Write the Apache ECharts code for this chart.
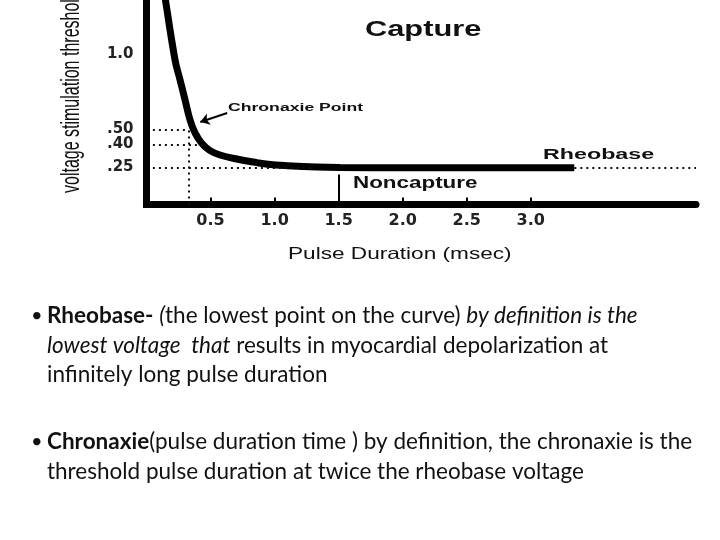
<!DOCTYPE html>
<html>
<head>
<meta charset="utf-8">
<script src="https://cdn.jsdelivr.net/npm/echarts@6/dist/echarts.min.js"></script>
<style>
  html, body { margin: 0; padding: 0; background: #fff; }
  #chart { width: 720px; height: 540px; }
</style>
</head>
<body>
<div id="chart"></div>
<script>
// strength-duration curve
const durations  = [0.137, 0.148, 0.223, 0.262, 0.301, 0.340, 0.379, 0.431, 0.496, 0.574, 0.705, 0.861, 0.949, 1.10, 1.33, 1.51, 2.0, 2.5, 3.0, 3.34]
const thresholds = [1.43, 1.363, 0.963, 0.83, 0.697, 0.563, 0.477, 0.408, 0.359, 0.33, 0.303, 0.279, 0.268, 0.259, 0.25, 0.247, 0.245, 0.245, 0.245, 0.245]

const xTickValues = [0.5, 1.0, 1.5, 2.0, 2.5, 3.0]
const yTickValues = [0.25, 0.40, 0.50, 1.0]
const yTickLabels = ['.25', '.40', '.50', '1.0']

const rheobase = 0.245
const chronaxie = [0.33, 0.5]      // pulse duration, voltage
const xMax = 4.29
const yMax = 1.363

let chart = echarts.init(document.getElementById('chart'), null, {renderer: 'canvas'})

const dots = {type: [2, 4], width: 2, color: '#111'}
const bold = 'Liberation Sans'

// text drawn straight on the canvas, stretched like the scanned figure
function txt(x, y, s, size, weight, sx, extra) {
    return Object.assign({
        type: 'text', x: x, y: y, scaleX: sx || 1,
        style: {text: s, fontFamily: bold, fontSize: size, fontWeight: weight,
                fill: '#111', textAlign: 'left', textVerticalAlign: 'middle'}
    }, extra || {})
}

const body = 'Lato'
const bodySize = 22.5
function para(y, lines) {
    return {
        type: 'text', x: 47, y: y,
        style: {
            text: lines.join('\n'),
            fontFamily: body, fontSize: bodySize, lineHeight: 29.5, fill: '#111',
            textAlign: 'left', textVerticalAlign: 'top',
            rich: {
                b: {fontFamily: body, fontSize: bodySize, lineHeight: 29.5, fontWeight: 'bold', fill: '#111'},
                i: {fontFamily: body, fontSize: bodySize, lineHeight: 29.5, fontStyle: 'italic', fill: '#111'}
            }
        }
    }
}
function bullet(y) {
    return {type: 'text', x: 31, y: y,
            style: {text: '\u2022', fontFamily: body, fontSize: 20, fill: '#111',
                    textAlign: 'left', textVerticalAlign: 'middle'}}
}

let option = {
    backgroundColor: '#fff',
    animation: false,
    grid: {left: 146.5, right: 24, top: 0, bottom: 335.5, containLabel: false},
    xAxis: {
        type: 'value', min: 0, max: xMax,
        axisLine: {lineStyle: {color: '#000', width: 7}},
        axisTick: {show: true, inside: true, length: 7, customValues: xTickValues,
                   lineStyle: {color: '#000', width: 2}},
        axisLabel: {customValues: xTickValues, formatter: v => v.toFixed(1),
                    fontFamily: 'DejaVu Sans', fontWeight: 'bold', fontSize: 16, color: '#222', margin: 8},
        splitLine: {show: false}
    },
    yAxis: {
        type: 'value', min: 0, max: yMax,
        axisLine: {show: true, lineStyle: {color: '#000', width: 7, cap: 'square'}},
        axisTick: {show: false},
        axisLabel: {customValues: yTickValues,
                    formatter: v => yTickLabels[yTickValues.indexOf(v)] || '',
                    fontFamily: 'DejaVu Sans', fontWeight: 'bold', fontSize: 15, color: '#222', margin: 13},
        splitLine: {show: false}
    },
    series: [{
        type: 'line',
        data: durations.map((d, i) => [d, thresholds[i]]),
        showSymbol: false,
        smooth: 0.4,
        lineStyle: {color: '#000', width: 7},
        markLine: {
            silent: true, symbol: 'none', label: {show: false}, lineStyle: dots,
            data: [
                [{coord: [0.05, chronaxie[1]]}, {coord: [chronaxie[0], chronaxie[1]]}],
                [{coord: [0.05, 0.40]}, {coord: [0.44, 0.40]}],
                [{coord: [0.05, rheobase]}, {coord: [1.3, rheobase]}],
                [{coord: [chronaxie[0], 0]}, {coord: [chronaxie[0], chronaxie[1] + 0.02]}],
                [{coord: [3.34, rheobase]}, {coord: [xMax, rheobase]}],
                // Capture / Noncapture divider
                [{coord: [1.5, 0], lineStyle: {type: 'solid', width: 2, color: '#000'}}, {coord: [1.5, 0.2]}],
                // chronaxie pointer
                [{coord: [0.63, 0.61], symbol: 'none', lineStyle: {type: 'solid', width: 2, color: '#000'}},
                 {coord: [0.42, 0.55], symbol: 'arrow', symbolSize: 9}]
            ]
        }
    }],
    graphic: [
        txt(72, 193, 'voltage stimulation threshold', 16, 'normal', 1,
            {rotation: Math.PI / 2, scaleY: 1.6}),
        txt(365, 30, 'Capture', 22, 'bold', 1.4),
        txt(228, 108, 'Chronaxie Point', 11.6, 'bold', 1.52),
        txt(543, 155, 'Rheobase', 15.5, 'bold', 1.5),
        txt(353, 184, 'Noncapture', 16, 'bold', 1.4),
        txt(288, 254, 'Pulse Duration (msec)', 16.5, 'normal', 1.37),
        bullet(316),
        para(301, [
            '{b|Rheobase-} {i|(}the lowest point on the curve) {i|by definition is the}',
            '{i|lowest voltage  that} results in myocardial depolarization at',
            'infinitely long pulse duration'
        ]),
        bullet(442),
        para(427, [
            '{b|Chronaxie}(pulse duration time ) by definition, the chronaxie is the',
            'threshold pulse duration at twice the rheobase voltage'
        ])
    ]
}

chart.setOption(option)
</script>
</body>
</html>
